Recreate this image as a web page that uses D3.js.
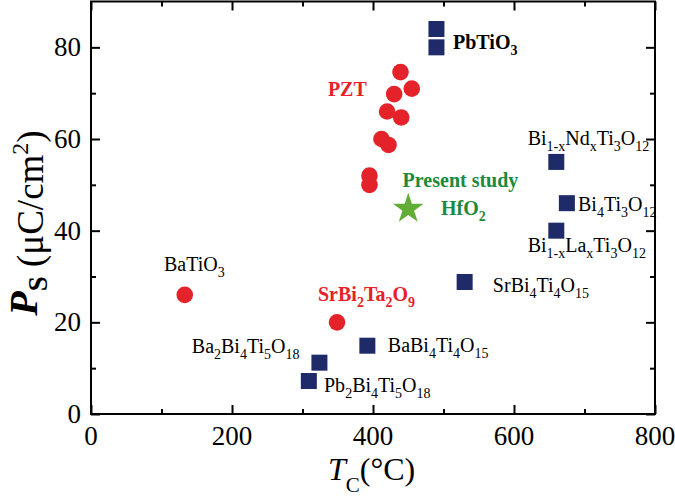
<!DOCTYPE html>
<html><head><meta charset="utf-8">
<script src="https://cdn.jsdelivr.net/npm/d3@7"></script>
<style>
body{margin:0;background:#fff;}
svg{display:block;font-family:"Liberation Serif","Times New Roman",serif;}
</style></head>
<body>
<svg id="chart" width="675" height="497"></svg>
<script>
// ---- data ----
const circleNames = ["BaTiO3","SrBi2Ta2O9","PZT","PZT","PZT","PZT","PZT","PZT","PZT","PZT","PZT"];
const circleTc    = [133, 349, 439, 455, 430, 420, 440, 412, 422, 395, 395];
const circlePs    = [26, 20, 74.6, 71, 69.8, 66, 64.7, 60, 58.7, 52, 50];

const squareNames = ["PbTiO3","PbTiO3","Bi1-xNdxTi3O12","Bi4Ti3O12","Bi1-xLaxTi3O12","SrBi4Ti4O15","BaBi4Ti4O15","Ba2Bi4Ti5O18","Pb2Bi4Ti5O18"];
const squareTc    = [490, 490, 660, 675, 660, 530, 392, 324, 309];
const squarePs    = [84, 80, 55, 46, 40, 28.8, 14.9, 11.2, 7.2];

const starName = ["HfO2 (present study)"];
const starTc   = [450];
const starPs   = [45];

const xTicks = [0, 200, 400, 600, 800];
const yTicks = [0, 20, 40, 60, 80];
const xMinor = [100, 300, 500, 700];
const yMinor = [10, 30, 50, 70];

// label text ({} = subscript) anchored in data coordinates
const labelText = ["BaTiO{3}","Ba{2}Bi{4}Ti{5}O{18}","Pb{2}Bi{4}Ti{5}O{18}","BaBi{4}Ti{4}O{15}","SrBi{4}Ti{4}O{15}",
  "SrBi{2}Ta{2}O{9}","PZT","Present study","HfO{2}","PbTiO{3}","Bi{1-x}Nd{x}Ti{3}O{12}","Bi{4}Ti{3}O{12}","Bi{1-x}La{x}Ti{3}O{12}"];
const labelTc = [103.5, 143, 330.5, 421, 570, 322, 336, 442, 496.5, 513.5, 619.4, 690.8, 619.4];
const labelPs = [31.2, 13.3, 4.8, 13.5, 26.6, 24.7, 69.4, 49.5, 43.4, 79.6, 58.7, 44.3, 35.3];
const labelKind = ["n","n","n","n","n","r","r","g","g","b","n","n","n"];

// ---- drawing ----
const RED = "#e4222a", NAVY = "#1f2a68", STAR = "#62ad35", GTEXT = "#1c8a3c";
const svg = d3.select("#chart");
const L = 91, R = 655, T = 1.5, B = 414;
const x = d3.scaleLinear().domain([0, 800]).range([L, R]);
const y = d3.scaleLinear().domain([0, 90]).range([B, T]);

const axisStyle = g => {
  g.select(".domain").remove();
  g.selectAll("line").attr("stroke", "#000").attr("stroke-width", 2);
};
// major/minor ticks (inward) on four sides
svg.append("g").attr("transform", `translate(0,${B})`)
  .call(d3.axisBottom(x).tickValues(xTicks).tickSize(-9).tickFormat("")).call(axisStyle);
svg.append("g").attr("transform", `translate(0,${B})`)
  .call(d3.axisBottom(x).tickValues(xMinor).tickSize(-5).tickFormat("")).call(axisStyle);
svg.append("g").attr("transform", `translate(0,${T})`)
  .call(d3.axisTop(x).tickValues(xTicks).tickSize(-9).tickFormat("")).call(axisStyle);
svg.append("g").attr("transform", `translate(0,${T})`)
  .call(d3.axisTop(x).tickValues(xMinor).tickSize(-5).tickFormat("")).call(axisStyle);
svg.append("g").attr("transform", `translate(${L},0)`)
  .call(d3.axisLeft(y).tickValues(yTicks).tickSize(-9).tickFormat("")).call(axisStyle);
svg.append("g").attr("transform", `translate(${L},0)`)
  .call(d3.axisLeft(y).tickValues(yMinor).tickSize(-5).tickFormat("")).call(axisStyle);
svg.append("g").attr("transform", `translate(${R},0)`)
  .call(d3.axisRight(y).tickValues(yTicks).tickSize(-9).tickFormat("")).call(axisStyle);
svg.append("g").attr("transform", `translate(${R},0)`)
  .call(d3.axisRight(y).tickValues(yMinor).tickSize(-5).tickFormat("")).call(axisStyle);

svg.append("rect").attr("x", L).attr("y", T).attr("width", R - L).attr("height", B - T)
  .attr("fill", "none").attr("stroke", "#000").attr("stroke-width", 2);

// tick labels
svg.append("g").selectAll("text").data(xTicks).join("text")
  .attr("x", d => x(d)).attr("y", 445).attr("text-anchor", "middle")
  .attr("font-size", 27).text(d => d);
svg.append("g").selectAll("text").data(yTicks).join("text")
  .attr("x", 81).attr("y", d => y(d) + 9).attr("text-anchor", "end")
  .attr("font-size", 27).text(d => d);

// markers
svg.append("g").selectAll("circle").data(circleTc).join("circle")
  .attr("cx", d => x(d)).attr("cy", (d, i) => y(circlePs[i])).attr("r", 8.3)
  .attr("fill", RED);
const S = 16;
svg.append("g").selectAll("rect").data(squareTc).join("rect")
  .attr("x", d => x(d) - S / 2).attr("y", (d, i) => y(squarePs[i]) - S / 2)
  .attr("width", S).attr("height", S).attr("fill", NAVY);
svg.append("g").selectAll("path").data(starTc).join("path")
  .attr("transform", (d, i) => `translate(${x(d)},${y(starPs[i]) + 1})`)
  .attr("d", d3.symbol(d3.symbolStar, 290)).attr("fill", STAR);

// labels
function richText(sel, str, size, subSize) {
  const parts = str.split(/(\{[^}]*\})/).filter(p => p.length);
  let sub = false;
  parts.forEach(p => {
    if (p.startsWith("{")) {
      sel.append("tspan").attr("font-size", subSize).attr("dy", sub ? 0 : 6).text(p.slice(1, -1));
      sub = true;
    } else {
      sel.append("tspan").attr("font-size", size).attr("dy", sub ? -6 : 0).text(p);
      sub = false;
    }
  });
}
labelText.forEach((t, i) => {
  const k = labelKind[i];
  const el = svg.append("text").attr("x", x(labelTc[i])).attr("y", y(labelPs[i]))
    .attr("fill", k === "r" ? RED : k === "g" ? GTEXT : "#000")
    .attr("font-weight", k === "n" ? "normal" : "bold");
  richText(el, t, 20, 14);
});

// axis titles
const xt = svg.append("text").attr("x", 328).attr("y", 480);
xt.append("tspan").attr("font-style", "italic").attr("font-size", 32).text("T");
xt.append("tspan").attr("font-size", 21).attr("dy", 12).text("C");
xt.append("tspan").attr("font-size", 32).attr("dy", -12).text("(\u00B0C)");

const yt = svg.append("text").attr("transform", "translate(43,223) rotate(-90)")
  .attr("text-anchor", "middle");
yt.append("tspan").attr("font-style", "italic").attr("font-weight", "bold").attr("font-size", 40).attr("dy", -6).text("P");
yt.append("tspan").attr("font-weight", "bold").attr("font-size", 27).attr("dy", 10).text("S");
yt.append("tspan").attr("font-size", 37).attr("dy", -4).text(" (\u03BCC/cm");
yt.append("tspan").attr("font-size", 24).attr("dy", -15).text("2");
yt.append("tspan").attr("font-size", 37).attr("dy", 15).text(")");
</script>
</body></html>
